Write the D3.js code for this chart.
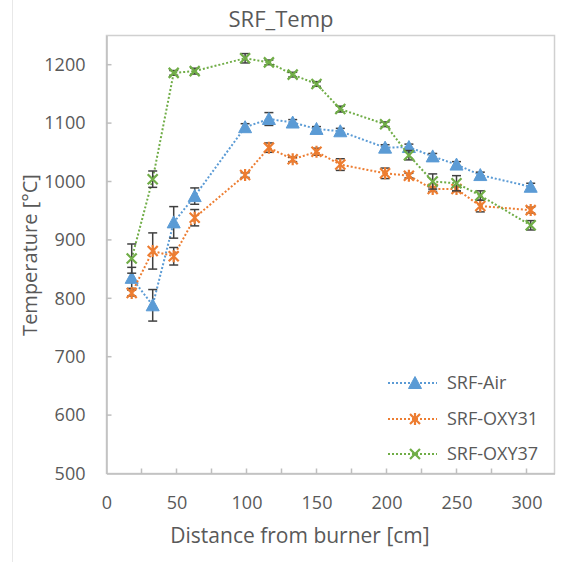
<!DOCTYPE html>
<html>
<head>
<meta charset="utf-8">
<script src="https://cdn.jsdelivr.net/npm/d3@7"></script>
<style>
  body { margin: 0; background: #fff; }
  text { font-family: "Open Sans", "Noto Sans", sans-serif; fill: #595959; }
</style>
</head>
<body>
<svg width="562" height="562"></svg>
<script>
// distances along the furnace [cm]
const distance = [18, 33, 48, 63, 99, 116, 133, 150, 167, 199, 216, 233, 250, 267, 303];

const airTemp   = [835, 788, 930, 975, 1093, 1107, 1101, 1090, 1086, 1058, 1059, 1043, 1029, 1011, 991];
const airErr    = [18, 27, 27, 14, 6, 11, 5, 4, 5, 5, 5, 5, 5, 5, 6];
const oxy31Temp = [809, 881, 872, 938, 1011, 1058, 1038, 1051, 1029, 1014, 1010, 987, 987, 958, 951];
const oxy31Err  = [5, 31, 15, 14, 4, 8, 4, 6, 10, 9, 4, 4, 4, 10, 5];
const oxy37Temp = [868, 1004, 1186, 1189, 1211, 1204, 1183, 1167, 1124, 1098, 1045, 1000, 997, 976, 925];
const oxy37Err  = [25, 14, 4, 5, 8, 4, 4, 4, 5, 4, 8, 13, 13, 8, 8];

const xTicks = [0, 50, 100, 150, 200, 250, 300];
const xMinorTicks = [25, 75, 125, 175, 225, 275];
const yTicks = [500, 600, 700, 800, 900, 1000, 1100, 1200];

const seriesNames = ["SRF-Air", "SRF-OXY31", "SRF-OXY37"];
const seriesColors = ["#5B9BD5", "#ED7D31", "#70AD47"];
const seriesMarkers = ["triangle", "star", "cross"];

const svg = d3.select("svg");
const plotLeft = 106.5, plotRight = 554.5, plotTop = 35.5, plotBottom = 473.5;

const x = d3.scaleLinear().domain([0, 320]).range([plotLeft, plotRight]);
const y = d3.scaleLinear().domain([500, 1250]).range([plotBottom, plotTop]);

// faint chart border on the left
svg.append("line")
  .attr("x1", 12.5).attr("x2", 12.5).attr("y1", 0).attr("y2", 562)
  .attr("stroke", "#e8e8e8").attr("stroke-width", 1);

// plot area frame
svg.append("rect")
  .attr("x", plotLeft).attr("y", plotTop)
  .attr("width", plotRight - plotLeft).attr("height", plotBottom - plotTop)
  .attr("fill", "none").attr("stroke", "#d0d0d0").attr("stroke-width", 1.5);

// axes
const xAxis = svg.append("g").attr("transform", `translate(0,${plotBottom})`)
  .call(d3.axisBottom(x).tickValues(xTicks).tickSize(0).tickPadding(23));
xAxis.select(".domain").attr("stroke", "#bfbfbf").attr("stroke-width", 1.5);
xAxis.selectAll("text").style("font-size", "18px").attr("fill", "#595959");

svg.append("g").selectAll("line")
  .data(xTicks.concat(xMinorTicks).filter(d => d > 0))
  .join("line")
  .attr("x1", d => x(d)).attr("x2", d => x(d))
  .attr("y1", plotBottom).attr("y2", plotBottom - 5)
  .attr("stroke", "#bfbfbf").attr("stroke-width", 1.5);

const yAxis = svg.append("g").attr("transform", `translate(${plotLeft},0)`)
  .call(d3.axisLeft(y).tickValues(yTicks).tickFormat(d3.format("d")).tickSize(0).tickPadding(21));
yAxis.select(".domain").attr("stroke", "#bfbfbf").attr("stroke-width", 1.5);
yAxis.selectAll("text").style("font-size", "18px").attr("fill", "#595959");

svg.append("g").selectAll("line")
  .data(yTicks.filter(d => d > 500))
  .join("line")
  .attr("x1", plotLeft).attr("x2", plotLeft + 5)
  .attr("y1", d => y(d)).attr("y2", d => y(d))
  .attr("stroke", "#bfbfbf").attr("stroke-width", 1.5);

// titles
svg.append("text").attr("x", 281).attr("y", 27)
  .attr("text-anchor", "middle").style("font-size", "22px").text("SRF_Temp");
svg.append("text").attr("x", 300).attr("y", 543)
  .attr("text-anchor", "middle").style("font-size", "21px").text("Distance from burner [cm]");
svg.append("text").attr("transform", "translate(37,255) rotate(-90)")
  .attr("text-anchor", "middle").style("font-size", "20px").text("Temperature [°C]");

const markerPath = (type) => {
  if (type === "triangle") return "M0,-6.5L6.5,5.5L-6.5,5.5Z";
  if (type === "star") return "M-5,-5L5,5M-5,5L5,-5M0,-6L0,6";
  return "M-5,-5L5,5M-5,5L5,-5";
};

const drawMarker = (g, type, color) => {
  if (type === "triangle") {
    g.append("path").attr("d", markerPath(type)).attr("fill", color).attr("stroke", color).attr("stroke-width", 1);
  } else {
    g.append("path").attr("d", markerPath(type)).attr("fill", "none").attr("stroke", color).attr("stroke-width", 2.2);
  }
};

const allSeries = [
  { temp: airTemp, err: airErr },
  { temp: oxy31Temp, err: oxy31Err },
  { temp: oxy37Temp, err: oxy37Err }
];

const line = d3.line().x(d => x(d.d)).y(d => y(d.t));

allSeries.forEach((s, i) => {
  const pts = distance.map((d, k) => ({ d: d, t: s.temp[k], e: s.err[k] }));
  const g = svg.append("g");

  g.append("path")
    .attr("d", line(pts))
    .attr("fill", "none")
    .attr("stroke", seriesColors[i])
    .attr("stroke-width", 2)
    .attr("stroke-dasharray", "2,2");

  // error bars
  const eb = g.append("g").selectAll("g").data(pts).join("g");
  eb.append("line")
    .attr("x1", d => x(d.d)).attr("x2", d => x(d.d))
    .attr("y1", d => y(d.t + d.e)).attr("y2", d => y(d.t - d.e))
    .attr("stroke", "#404040").attr("stroke-width", 1.5);
  eb.append("line")
    .attr("x1", d => x(d.d) - 4.5).attr("x2", d => x(d.d) + 4.5)
    .attr("y1", d => y(d.t + d.e)).attr("y2", d => y(d.t + d.e))
    .attr("stroke", "#404040").attr("stroke-width", 1.5);
  eb.append("line")
    .attr("x1", d => x(d.d) - 4.5).attr("x2", d => x(d.d) + 4.5)
    .attr("y1", d => y(d.t - d.e)).attr("y2", d => y(d.t - d.e))
    .attr("stroke", "#404040").attr("stroke-width", 1.5);

  g.append("g").selectAll("g").data(pts).join("g")
    .attr("transform", d => `translate(${x(d.d)},${y(d.t)})`)
    .each(function () { drawMarker(d3.select(this), seriesMarkers[i], seriesColors[i]); });
});

// legend
const legendY = [383, 419, 454];
seriesNames.forEach((name, i) => {
  const g = svg.append("g").attr("transform", `translate(0,${legendY[i]})`);
  g.append("line")
    .attr("x1", 388).attr("x2", 437).attr("y1", 0).attr("y2", 0)
    .attr("stroke", seriesColors[i]).attr("stroke-width", 2).attr("stroke-dasharray", "2,2");
  const m = g.append("g").attr("transform", "translate(415,0)");
  drawMarker(m, seriesMarkers[i], seriesColors[i]);
  g.append("text").attr("x", 447).attr("y", 0).attr("dy", "0.35em")
    .style("font-size", "18px").text(name);
});
</script>
</body>
</html>
